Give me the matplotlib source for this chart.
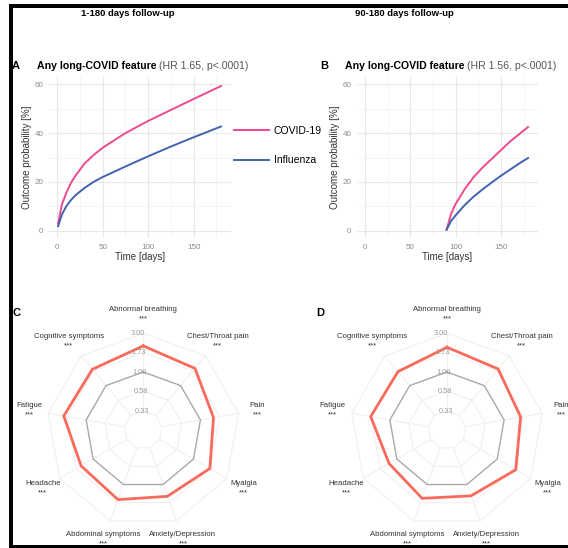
import numpy as np
import matplotlib
matplotlib.use("Agg")
import matplotlib.pyplot as plt
from matplotlib.lines import Line2D
from matplotlib.patches import Rectangle

plt.rcParams['font.family'] = ['Liberation Sans', 'DejaVu Sans']

W, H = 568, 548

# ---- data ----
days_a = [1, 5, 10, 15, 20, 30, 40, 50, 75, 100, 125, 150, 180]
covid_a = [3.0, 10.5, 15.5, 19.5, 22.5, 27.5, 31.0, 34.0, 40.0, 45.0, 49.5, 54.0, 59.3]
flu_a = [1.8, 6.5, 10.0, 12.5, 14.5, 17.5, 20.0, 22.0, 26.3, 30.5, 34.5, 38.3, 42.7]

days_b = [90, 95, 100, 110, 120, 130, 140, 150, 160, 170, 180]
covid_b = [0.4, 7.0, 11.0, 17.0, 22.0, 26.0, 29.5, 33.0, 36.5, 39.5, 42.5]
flu_b = [0.4, 4.0, 6.3, 10.5, 14.0, 17.0, 19.8, 22.5, 25.0, 27.5, 29.8]

symptoms = ['Abnormal breathing', 'Chest/Throat pain', 'Pain', 'Myalgia',
            'Anxiety/Depression', 'Abdominal symptoms', 'Headache', 'Fatigue',
            'Cognitive symptoms']
hr_c = [2.10, 1.89, 1.46, 1.71, 1.43, 1.58, 1.48, 1.91, 1.83]
hr_d = [2.02, 1.85, 1.61, 1.84, 1.41, 1.52, 1.29, 1.74, 1.68]
ring_values = [0.33, 0.58, 1.00, 1.73, 3.00]
ring_labels = ['0.33', '0.58', '1.00', '1.73', '3.00']

COVID_COL = '#EE4A8E'
FLU_COL = '#4163B0'
RADAR_COL = '#F86A5C'


def frac(x0, y0, x1, y1):
    # pixel box (top-left origin) -> figure fraction rect
    return [x0 / W, 1 - y1 / H, (x1 - x0) / W, (y1 - y0) / H]


fig = plt.figure(figsize=(W / 100, H / 100), dpi=100)


def km_panel(rect, days, cov, flu, letter, hr):
    ax = fig.add_axes(frac(*rect))
    ax.plot(days, cov, color=COVID_COL, lw=1.4)
    ax.plot(days, flu, color=FLU_COL, lw=1.4)
    ax.set_xlim(-9, 191)
    ax.set_ylim(-3, 63)
    ax.set_xticks([0, 50, 100, 150])
    ax.set_xticks([25, 75, 125, 175], minor=True)
    ax.set_yticks([0, 20, 40, 60])
    ax.set_yticks([10, 30, 50], minor=True)
    ax.grid(True, which='major', color='#E8E8E8', lw=0.8)
    ax.grid(True, which='minor', color='#F3F3F3', lw=0.6)
    for s in ax.spines.values():
        s.set_visible(False)
    ax.tick_params(which='both', length=0, labelsize=5.8, labelcolor='#8A8A8A', pad=4)
    ax.set_xlabel('Time [days]', fontsize=7, color='#333333', labelpad=1)
    ax.set_ylabel('Outcome probability [%]', fontsize=7, color='#333333', labelpad=2)
    x0 = rect[0]
    fig.text((x0 - 37) / W, 1 - 66 / H, letter, fontsize=8, fontweight='bold',
             va='center', ha='left')
    t1 = fig.text((x0 - 12) / W, 1 - 66 / H, 'Any long-COVID feature', fontsize=7.6,
                  fontweight='bold', va='center', ha='left')
    ax.annotate(hr, xy=(1, 0.5), xycoords=t1, xytext=(2, 0), textcoords='offset points',
                fontsize=7.6, color='#555555', va='center', ha='left')
    return ax


km_panel((49, 77, 231, 238), days_a, covid_a, flu_a, 'A', '(HR 1.65, p<.0001)')
km_panel((357, 77, 538, 238), days_b, covid_b, flu_b, 'B', '(HR 1.56, p<.0001)')

handles = [Line2D([], [], color=COVID_COL, lw=1.4), Line2D([], [], color=FLU_COL, lw=1.4)]
fig.legend(handles, ['COVID-19', 'Influenza'], loc='center left',
           bbox_to_anchor=(229 / W, 1 - 145.5 / H), frameon=False, fontsize=7.5,
           handlelength=3.3, handletextpad=0.5, labelspacing=1.9, borderpad=0)

fig.text(128 / W, 1 - 14 / H, '1-180 days follow-up', fontsize=6.8, fontweight='bold',
         ha='center', va='center')
fig.text(404 / W, 1 - 14 / H, '90-180 days follow-up', fontsize=6.8, fontweight='bold',
         ha='center', va='center')


def radial(v):
    return 3 + 2 * np.log(np.asarray(v, dtype=float)) / np.log(3)


def radar_panel(cx, cy, vals, letter):
    R = 5 * 19.33
    ax = fig.add_axes(frac(cx - R, cy - R, cx + R, cy + R), projection='polar')
    ax.set_theta_offset(np.pi / 2)
    ax.set_theta_direction(-1)
    ax.set_ylim(0, 5)
    ax.grid(False)
    ax.set_xticks([])
    ax.set_yticks([])
    ax.spines['polar'].set_visible(False)
    ax.patch.set_visible(False)
    n = len(symptoms)
    theta = np.linspace(0, 2 * np.pi, n, endpoint=False)
    tc = np.append(theta, theta[0])
    for v in ring_values:
        r = radial(v)
        col, lw = ('#A8A8A8', 1.0) if v == 1.0 else ('#F0F0F0', 0.8)
        ax.plot(tc, np.full(n + 1, r), color=col, lw=lw, clip_on=False, zorder=2 if v == 1.0 else 1)
    for t in theta:
        ax.plot([t, t], [radial(ring_values[0]), radial(ring_values[-1])],
                color='#F0F0F0', lw=0.8, clip_on=False, zorder=1)
    r_vals = radial(vals)
    ax.plot(tc, np.append(r_vals, r_vals[0]), color=RADAR_COL, lw=2.0, zorder=3, clip_on=False)
    for v, lab in zip(ring_values, ring_labels):
        ax.text(-0.06, radial(v), lab, fontsize=5.3, color='#9A9A9A', ha='center',
                va='center', zorder=4)
    for t, name in zip(theta, symptoms):
        ax.text(t, 6.0, name + '\n***', fontsize=5.6, color='#333333', ha='center',
                va='center', linespacing=1.5)
    fig.text((cx - 131) / W, 1 - 313 / H, letter, fontsize=8, fontweight='bold',
             ha='left', va='center')


radar_panel(143.3, 430, hr_c, 'C')
radar_panel(447, 430, hr_d, 'D')

# black frame of the screenshot
fig.add_artist(Rectangle((9 / W, 1 - 7.5 / H), 1, 4 / H, transform=fig.transFigure,
                         color='black', lw=0))
fig.add_artist(Rectangle((9 / W, 0), 4 / W, 1 - 4 / H, transform=fig.transFigure,
                         color='black', lw=0))
fig.add_artist(Rectangle((9 / W, 0), 1, 3.5 / H, transform=fig.transFigure,
                         color='black', lw=0))

fig.savefig('out.png', dpi=100)
